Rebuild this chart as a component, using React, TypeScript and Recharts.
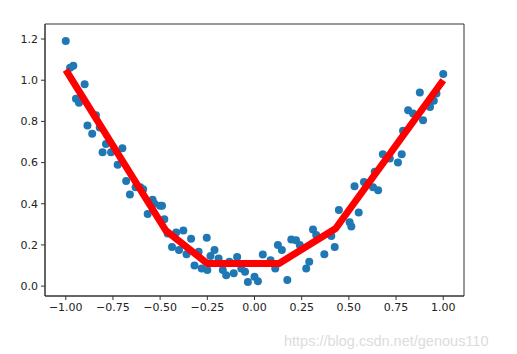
import { ScatterChart, Scatter, XAxis, YAxis, ReferenceArea } from 'recharts'

// noisy samples of y = x^2
const sampleX = [
  -1.0, -0.977, -0.96, -0.946, -0.93, -0.9, -0.885, -0.86, -0.84, -0.82,
  -0.805, -0.787, -0.76, -0.725, -0.7, -0.68, -0.66, -0.63, -0.605, -0.59,
  -0.566, -0.54, -0.53, -0.5, -0.49, -0.478, -0.46, -0.437, -0.415, -0.4,
  -0.377, -0.36, -0.336, -0.318, -0.296, -0.28, -0.253, -0.25, -0.233, -0.212,
  -0.19, -0.168, -0.15, -0.133, -0.11, -0.092, -0.07, -0.05, -0.035, 0.0,
  0.018, 0.044, 0.085, 0.11, 0.124, 0.145, 0.174, 0.195, 0.22, 0.24,
  0.274, 0.29, 0.31, 0.327, 0.37, 0.407, 0.425, 0.447, 0.504, 0.513,
  0.53, 0.552, 0.58, 0.628, 0.637, 0.655, 0.68, 0.717, 0.76, 0.78,
  0.787, 0.814, 0.84, 0.876, 0.893, 0.93, 0.95, 0.964, 1.0,
]
const sampleY = [
  1.19, 1.06, 1.07, 0.91, 0.89, 0.98, 0.78, 0.74, 0.83, 0.77,
  0.65, 0.69, 0.65, 0.59, 0.67, 0.51, 0.445, 0.48, 0.48, 0.47,
  0.35, 0.42, 0.4, 0.39, 0.39, 0.325, 0.255, 0.19, 0.26, 0.175,
  0.27, 0.155, 0.23, 0.1, 0.167, 0.086, 0.235, 0.078, 0.146, 0.175,
  0.134, 0.078, 0.053, 0.118, 0.062, 0.142, 0.086, 0.07, 0.02, 0.045,
  0.024, 0.154, 0.126, 0.086, 0.2, 0.175, 0.03, 0.227, 0.223, 0.2,
  0.086, 0.118, 0.275, 0.248, 0.155, 0.243, 0.19, 0.37, 0.31, 0.29,
  0.485, 0.358, 0.506, 0.48, 0.555, 0.466, 0.64, 0.62, 0.6, 0.64,
  0.754, 0.854, 0.838, 0.94, 0.806, 0.87, 0.9, 0.935, 1.03,
]

// fitted prediction (piecewise linear)
const fitX = [-1.0, -0.47, -0.25, 0.13, 0.43, 1.0]
const fitY = [1.05, 0.27, 0.11, 0.11, 0.28, 1.0]

const xTicks = [-1, -0.75, -0.5, -0.25, 0, 0.25, 0.5, 0.75, 1]
const yTicks = [0, 0.2, 0.4, 0.6, 0.8, 1.0, 1.2]

const X_DOMAIN: [number, number] = [-1.11, 1.11]
const Y_DOMAIN: [number, number] = [-0.048, 1.273]

const samples = sampleX.map((x, i) => ({ x, y: sampleY[i] }))
const fit = fitX.map((x, i) => ({ x, y: fitY[i] }))

const fmt = (v: number, d: number) => {
  const s = Math.abs(v).toFixed(d)
  return v < 0 ? `\u2212${s}` : s
}

const TICK = { fill: '#222', fontSize: 11, fontFamily: 'DejaVu Sans' }

export default function App() {
  return (
    <div style={{ position: 'absolute', left: 0, top: 0, width: 517, height: 354, background: '#fff' }}>
      <ScatterChart width={517} height={354} margin={{ top: 24, right: 53, bottom: 28, left: 0 }}>
        <XAxis
          type="number"
          dataKey="x"
          domain={X_DOMAIN}
          ticks={xTicks}
          allowDataOverflow
          tickFormatter={(v: number) => fmt(v, 2)}
          tick={TICK}
          tickSize={4}
          tickMargin={3}
          height={30}
          axisLine={{ stroke: '#333' }}
          tickLine={{ stroke: '#333' }}
        />
        <YAxis
          type="number"
          dataKey="y"
          domain={Y_DOMAIN}
          ticks={yTicks}
          allowDataOverflow
          tickFormatter={(v: number) => fmt(v, 1)}
          tick={TICK}
          tickSize={4}
          tickMargin={3}
          width={45}
          axisLine={{ stroke: '#333' }}
          tickLine={{ stroke: '#333' }}
        />
        <ReferenceArea
          x1={X_DOMAIN[0]}
          x2={X_DOMAIN[1]}
          y1={Y_DOMAIN[0]}
          y2={Y_DOMAIN[1]}
          fill="none"
          stroke="#333"
          strokeWidth={1}
        />
        <Scatter
          data={samples}
          fill="#1f77b4"
          isAnimationActive={false}
          shape={(p: any) => <circle cx={p.cx} cy={p.cy} r={4} fill="#1f77b4" />}
        />
        <Scatter
          data={fit}
          isAnimationActive={false}
          line={{ stroke: '#ff0000', strokeWidth: 7, strokeLinejoin: 'round' }}
          lineType="joint"
          shape={() => <g />}
        />
      </ScatterChart>
      <div
        style={{
          position: 'absolute',
          left: 284,
          top: 333,
          fontFamily: 'Liberation Sans, Arial, sans-serif',
          fontSize: 14.5,
          color: '#dcdcdc',
          whiteSpace: 'nowrap',
        }}
      >
        https://blog.csdn.net/genous110
      </div>
    </div>
  )
}
